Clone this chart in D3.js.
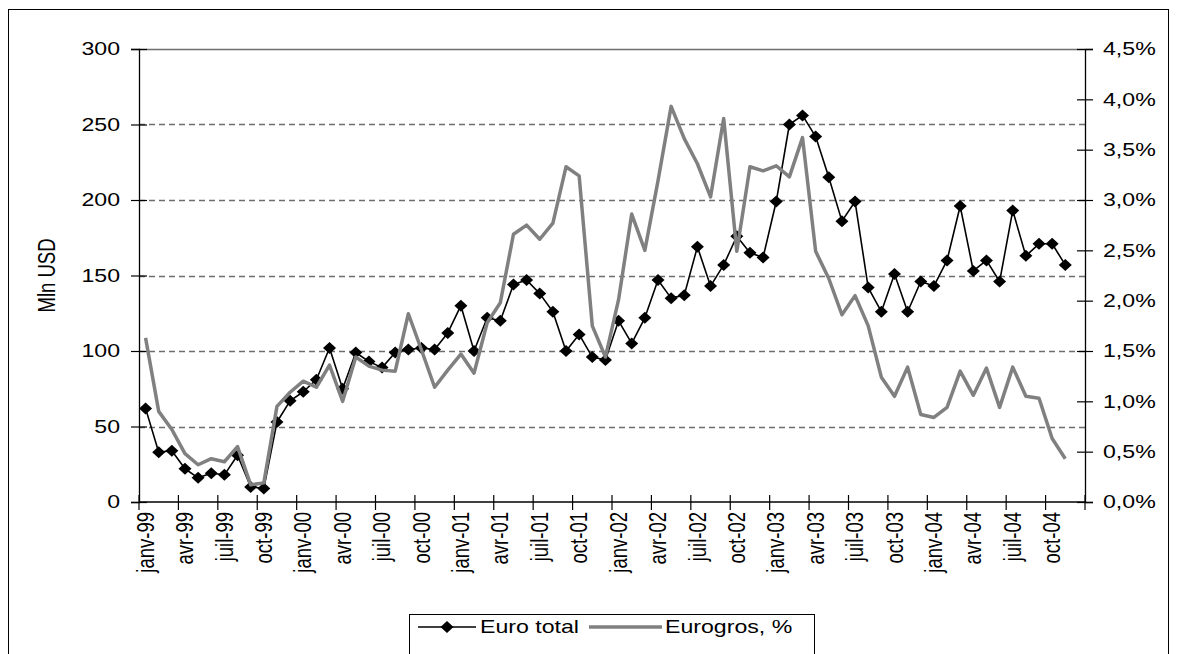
<!DOCTYPE html>
<html>
<head>
<meta charset="utf-8">
<script src="https://cdn.jsdelivr.net/npm/d3@7"></script>
<style>
  html, body { margin: 0; padding: 0; background: #fff; }
  svg { display: block; }
  text { font-family: "Liberation Sans", Arial, sans-serif; fill: #000; }
</style>
</head>
<body>
<svg id="chart" width="1177" height="654"></svg>
<script>
// Month names and years used to build the category axis (janv-99 ... déc-04)
const monthNames = ["janv", "févr", "mars", "avr", "mai", "juin", "juil", "août", "sept", "oct", "nov", "déc"];
const years = ["99", "00", "01", "02", "03", "04"];
const categories = [];
years.forEach(y => monthNames.forEach(m => categories.push(m + "-" + y)));

// Euro total, Mln USD (left axis)
const euroTotal = [
  62, 33, 34, 22, 16, 19, 18, 31, 10, 9, 53, 67,
  73, 81, 102, 75, 99, 93, 89, 99, 101, 102, 101, 112,
  130, 100, 122, 120, 144, 147, 138, 126, 100, 111, 96, 94,
  120, 105, 122, 147, 135, 137, 169, 143, 157, 176, 165, 162,
  199, 250, 256, 242, 215, 186, 199, 142, 126, 151, 126, 146,
  143, 160, 196, 153, 160, 146, 193, 163, 171, 171, 157
];

// Eurogros, % (right axis)
const eurogros = [
  1.63, 0.90, 0.72, 0.48, 0.37, 0.43, 0.40, 0.55, 0.17, 0.19, 0.95, 1.09,
  1.20, 1.14, 1.36, 1.00, 1.44, 1.35, 1.31, 1.30, 1.87, 1.51, 1.14, 1.31,
  1.47, 1.28, 1.78, 1.98, 2.66, 2.75, 2.61, 2.77, 3.33, 3.24, 1.75, 1.44,
  2.01, 2.86, 2.50, 3.19, 3.93, 3.61, 3.36, 3.03, 3.81, 2.49, 3.33, 3.29,
  3.34, 3.23, 3.62, 2.49, 2.22, 1.86, 2.05, 1.75, 1.24, 1.05, 1.34, 0.87,
  0.84, 0.94, 1.30, 1.06, 1.33, 0.94, 1.34, 1.05, 1.03, 0.63, 0.43
];

const leftTicks = [0, 50, 100, 150, 200, 250, 300];
const rightTicks = [0, 0.5, 1.0, 1.5, 2.0, 2.5, 3.0, 3.5, 4.0, 4.5];
const seriesNames = ["Euro total", "Eurogros, %"];

const svg = d3.select("#chart");
const plot = { left: 139, right: 1085, top: 49, bottom: 502 };
const fontSize = 18.5;
const stretch = 1.25;   // horizontal stretch of the lettering
const gridGrey = "#6e6e6e";

const x = d3.scaleBand().domain(categories).range([plot.left, plot.right]).padding(0);
const xc = c => x(c) + x.bandwidth() / 2;
const yL = d3.scaleLinear().domain([0, 300]).range([plot.bottom, plot.top]);
const yR = d3.scaleLinear().domain([0, 4.5]).range([plot.bottom, plot.top]);

// outer frame
svg.append("rect")
  .attr("x", 8.5).attr("y", 9.5).attr("width", 1160).attr("height", 700)
  .attr("fill", "none").attr("stroke", "#000").attr("stroke-width", 1);

// horizontal gridlines
svg.append("g").selectAll("line")
  .data(leftTicks.filter(v => v > 0))
  .join("line")
  .attr("x1", plot.left).attr("x2", plot.right)
  .attr("y1", d => Math.round(yL(d)) + 0.5).attr("y2", d => Math.round(yL(d)) + 0.5)
  .attr("stroke", gridGrey).attr("stroke-width", 1.5)
  .attr("stroke-dasharray", d => d === 300 ? null : "6,4");

// left axis
const gL = svg.append("g").attr("transform", `translate(${plot.left},0)`)
  .call(d3.axisLeft(yL).tickValues(leftTicks).tickSize(8).tickPadding(11).tickFormat(d3.format("d")));
gL.select(".domain").attr("stroke", "#000").attr("stroke-width", 1.3);
gL.selectAll(".tick line").attr("x1", -8).attr("x2", 8).attr("stroke", "#000").attr("stroke-width", 1.2);
gL.selectAll(".tick text")
  .style("font-size", fontSize + "px")
  .each(function () {
    const t = d3.select(this);
    const tx = +t.attr("x");
    t.attr("x", null).attr("transform", `translate(${tx},0) scale(${stretch},1)`);
  });

// right axis
const gR = svg.append("g").attr("transform", `translate(${plot.right},0)`)
  .call(d3.axisRight(yR).tickValues(rightTicks).tickSize(8).tickPadding(10)
    .tickFormat(d => d.toFixed(1).replace(".", ",") + "%"));
gR.select(".domain").attr("stroke", "#000").attr("stroke-width", 1.3);
gR.selectAll(".tick line").attr("x1", -8).attr("x2", 8).attr("stroke", "#000").attr("stroke-width", 1.2);
gR.selectAll(".tick text")
  .style("font-size", fontSize + "px")
  .each(function () {
    const t = d3.select(this);
    const tx = +t.attr("x");
    t.attr("x", null).attr("transform", `translate(${tx},0) scale(${stretch},1)`);
  });

// bottom axis: ticks every three months at category boundaries
const gB = svg.append("g");
gB.append("line")
  .attr("x1", plot.left).attr("x2", plot.right)
  .attr("y1", plot.bottom).attr("y2", plot.bottom)
  .attr("stroke", "#000").attr("stroke-width", 1.3);
const tickCats = categories.filter((c, i) => i % 3 === 0);
gB.selectAll("line.tk")
  .data(tickCats.concat([null]))
  .join("line").attr("class", "tk")
  .attr("x1", d => d === null ? plot.right : x(d))
  .attr("x2", d => d === null ? plot.right : x(d))
  .attr("y1", plot.bottom - 7).attr("y2", plot.bottom + 8)
  .attr("stroke", "#000").attr("stroke-width", 1.2);
gB.selectAll("text")
  .data(tickCats)
  .join("text")
  .attr("transform", d => `translate(${xc(d)},${plot.bottom + 10}) scale(${stretch},1) rotate(-90)`)
  .attr("text-anchor", "end")
  .attr("dy", "0.35em")
  .style("font-size", fontSize + "px")
  .text(d => d);

// left axis title
svg.append("text")
  .attr("transform", `translate(47,${(plot.top + plot.bottom) / 2}) scale(${stretch},1) rotate(-90)`)
  .attr("text-anchor", "middle")
  .attr("dy", "0.35em")
  .style("font-size", fontSize + "px")
  .text("Mln USD");

// Euro total line with diamond markers
const lineL = d3.line().x((d, i) => xc(categories[i])).y(d => yL(d));
svg.append("path")
  .attr("d", lineL(euroTotal))
  .attr("fill", "none").attr("stroke", "#000").attr("stroke-width", 1.6)
  .attr("stroke-linejoin", "round");

const diamond = "M0,-6L6.5,0L0,6L-6.5,0Z";
svg.append("g").selectAll("path")
  .data(euroTotal)
  .join("path")
  .attr("transform", (d, i) => `translate(${xc(categories[i])},${yL(d)})`)
  .attr("d", diamond)
  .attr("fill", "#000");

// Eurogros line on the right axis
const lineR = d3.line().x((d, i) => xc(categories[i])).y(d => yR(d));
svg.append("path")
  .attr("d", lineR(eurogros))
  .attr("fill", "none").attr("stroke", "#808080").attr("stroke-width", 3.5)
  .attr("stroke-linejoin", "round");

// legend
const lg = svg.append("g");
lg.append("rect")
  .attr("x", 409.5).attr("y", 614.5).attr("width", 405).attr("height", 60)
  .attr("fill", "#fff").attr("stroke", "#000").attr("stroke-width", 1);
lg.append("line").attr("x1", 418).attr("x2", 476).attr("y1", 627).attr("y2", 627)
  .attr("stroke", "#000").attr("stroke-width", 1.6);
lg.append("path").attr("transform", "translate(447,627)").attr("d", diamond).attr("fill", "#000");
lg.append("text")
  .attr("transform", `translate(480,627) scale(${stretch},1)`)
  .attr("dy", "0.35em").style("font-size", fontSize + "px")
  .text(seriesNames[0]);
lg.append("line").attr("x1", 589).attr("x2", 662).attr("y1", 627).attr("y2", 627)
  .attr("stroke", "#808080").attr("stroke-width", 3.5);
lg.append("text")
  .attr("transform", `translate(665,627) scale(${stretch},1)`)
  .attr("dy", "0.35em").style("font-size", fontSize + "px")
  .text(seriesNames[1]);
</script>
</body>
</html>
